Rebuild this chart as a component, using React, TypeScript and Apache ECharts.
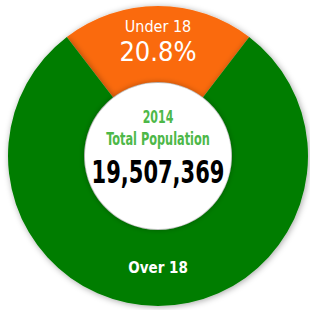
import React, { useEffect, useRef } from "react";
import * as echarts from "echarts";

const categories = ["Under 18", "Over 18"];
const shares = [20.8, 79.2];
const colors = ["#FA6A0A", "#007D00"];
const year = "2014";
const centerTitle = "Total Population";
const totalPopulation = "19,507,369";

const FONT = "'DejaVu Sans Condensed', 'DejaVu Sans', sans-serif";

export default function App() {
  const ref = useRef<HTMLDivElement>(null);
  useEffect(() => {
    if (!ref.current) return;
    const chart = echarts.init(ref.current, null, { renderer: "svg" });
    const startAngle = 90 + (shares[0] / 100) * 360 / 2;
    chart.setOption({
      animation: false,
      backgroundColor: "#ffffff",
      series: [
        {
          type: "pie",
          center: [158, 156],
          radius: [74, 150],
          startAngle,
          clockwise: true,
          silent: true,
          labelLine: { show: false },
          itemStyle: {
            shadowBlur: 6,
            shadowColor: "rgba(0,0,0,0.35)",
            shadowOffsetX: 1,
            shadowOffsetY: 1,
          },
          label: {
            show: true,
            position: "inside",
            fontFamily: FONT,
            color: "#ffffff",
            formatter: (p: any) =>
              p.dataIndex === 0
                ? `{a|${p.name}}\n{b|${p.value}%}`
                : `{c|${p.name}}`,
            rich: {
              a: { fontFamily: FONT, fontSize: 16, color: "#fff", lineHeight: 24, fontWeight: "normal" },
              b: { fontFamily: FONT, fontSize: 27, color: "#fff", lineHeight: 30, padding: [0, 0, 3, 0] },
              c: { fontFamily: FONT, fontSize: 15, color: "#fff", fontWeight: "bold", padding: [0, 0, 7, 0] },
            },
          },
          data: categories.map((name, i) => ({
            name,
            value: shares[i],
            itemStyle: { color: colors[i] },
          })),
        },
      ],
      graphic: [
        {
          type: "circle",
          shape: { cx: 158, cy: 156, r: 73 },
          style: { fill: "#ffffff", shadowBlur: 6, shadowColor: "rgba(0,0,0,0.35)" },
          z: 10,
        },
        {
          type: "text",
          x: 158,
          y: 117,
          scaleX: 0.72,
          z: 11,
          style: { text: year, fill: "#4DB848", font: `bold 17px ${FONT}`, textAlign: "center", textVerticalAlign: "middle" },
        },
        {
          type: "text",
          x: 158,
          y: 139,
          scaleX: 0.7,
          z: 11,
          style: { text: centerTitle, fill: "#4DB848", font: `bold 18px ${FONT}`, textAlign: "center", textVerticalAlign: "middle" },
        },
        {
          type: "text",
          x: 158,
          y: 172,
          scaleX: 0.73,
          z: 11,
          style: { text: totalPopulation, fill: "#000000", font: `bold 32px ${FONT}`, textAlign: "center", textVerticalAlign: "middle" },
        },
      ],
    });
    return () => chart.dispose();
  }, []);
  return (
    <div
      ref={ref}
      style={{ position: "fixed", left: 0, top: 0, width: 310, height: 310 }}
    />
  );
}
